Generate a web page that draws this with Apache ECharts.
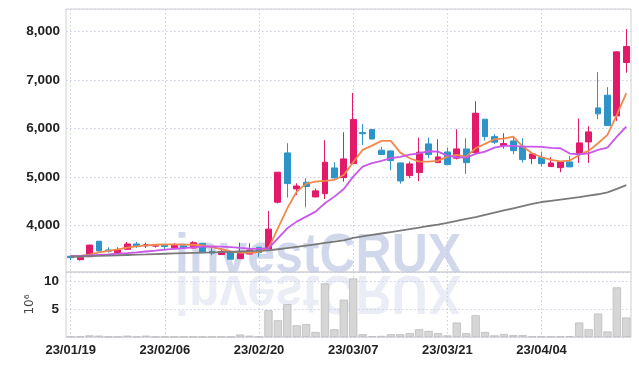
<!DOCTYPE html>
<html>
<head>
<meta charset="utf-8">
<script src="https://cdn.jsdelivr.net/npm/echarts@6/dist/echarts.min.js"></script>
<style>
html,body{margin:0;padding:0;background:#fff;}
#chart{width:639px;height:366px;}
</style>
</head>
<body>
<div id="chart"></div>
<script>
const dates = ['23/01/19','23/01/20','23/01/25','23/01/26','23/01/27','23/01/30','23/01/31','23/02/01','23/02/02','23/02/03',
 '23/02/06','23/02/07','23/02/08','23/02/09','23/02/10','23/02/13','23/02/14','23/02/15','23/02/16','23/02/17',
 '23/02/20','23/02/21','23/02/22','23/02/23','23/02/24','23/02/27','23/02/28','23/03/02','23/03/03','23/03/06',
 '23/03/07','23/03/08','23/03/09','23/03/10','23/03/13','23/03/14','23/03/15','23/03/16','23/03/17','23/03/20',
 '23/03/21','23/03/22','23/03/23','23/03/24','23/03/27','23/03/28','23/03/29','23/03/30','23/03/31','23/04/03',
 '23/04/04','23/04/05','23/04/06','23/04/07','23/04/10','23/04/11','23/04/12','23/04/13','23/04/14','23/04/17'];

const opens  = [3360,3290,3350,3670,3490,3435,3504,3614,3575,3570, 3587,3535,3575,3530,3628,3462,3395,3450,3310,3405,
                3545,3510,4475,5494,4750,4888,4585,4653,5184,4983, 5273,5913,5975,5550,5535,5287,5025,5087,5680,5293,
                5514,5384,5576,5500,6190,5830,5645,5740,5630,5376, 5397,5211,5190,5308,5473,5721,6423,6686,6258,7360];
const closes = [3330,3340,3590,3470,3465,3490,3614,3575,3600,3575, 3560,3585,3535,3640,3435,3425,3460,3300,3420,3490,
                3435,3920,5095,4860,4810,4800,4710,5300,4977,5370, 6182,5890,5782,5460,5335,4915,5267,5508,5460,5411,
                5252,5576,5293,6314,5830,5715,5686,5540,5355,5473, 5273,5287,5308,5205,5700,5928,6300,6058,7580,7690];
const lows   = [3280,3270,3345,3465,3435,3430,3500,3530,3530,3540, 3480,3530,3530,3525,3430,3380,3390,3295,3305,3400,
                3350,3505,4450,4570,4625,4370,4580,4543,4970,4900, 5260,5660,5770,5455,5136,4860,4971,4909,5384,5290,
                5245,5360,5060,5495,5748,5680,5583,5467,5293,5260, 5211,5205,5095,5200,5287,5287,6190,6050,6155,7150];
const highs  = [3380,3350,3600,3675,3545,3545,3655,3655,3640,3600, 3600,3630,3590,3670,3635,3570,3520,3455,3640,3630,
                3550,4295,5100,5695,4868,4970,4760,5756,5300,5921, 6733,6087,5980,5620,5540,5290,5314,5810,5810,5777,
                5603,5983,5797,6562,6195,5880,5900,5803,5797,5480, 5520,5404,5310,5432,6203,6045,7161,6851,7590,8050];

const ma5  = [3365,3365,3393,3440,3470,3500,3540,3565,3585,3598, 3605,3605,3600,3598,3585,3550,3505,3462,3434,3430,
              3448,3525,3938,4351,4694,4860,4900,4915,4936,5039, 5300,5556,5645,5742,5742,5500,5384,5314,5314,5328,
              5418,5452,5418,5590,5680,5777,5790,5830,5624,5486, 5404,5349,5321,5335,5452,5535,5694,5866,6280,6727];
const ma20 = [3360,3368,3378,3390,3400,3412,3425,3440,3458,3475, 3495,3512,3528,3545,3558,3562,3560,3548,3532,3518,
              3512,3525,3731,3938,4075,4178,4281,4455,4591,4750, 5004,5211,5281,5328,5384,5411,5459,5486,5528,5521,
              5438,5404,5397,5473,5521,5604,5638,5638,5624,5624, 5617,5597,5590,5480,5466,5486,5556,5604,5830,6037];
const ma60 = [3350,3355,3362,3368,3375,3380,3386,3392,3398,3405, 3412,3418,3424,3430,3436,3440,3446,3452,3458,3464,
              3470,3480,3505,3530,3555,3580,3605,3635,3660,3690, 3740,3770,3800,3830,3860,3890,3920,3950,3985,4015,
              4050,4090,4130,4170,4215,4260,4305,4350,4395,4440, 4480,4505,4530,4555,4580,4610,4640,4680,4750,4830];

// volume in millions of shares
const volumes = [0.08,0.1,0.3,0.25,0.05,0.05,0.25,0.05,0.25,0.05, 0.05,0.05,0.05,0.05,0.05,0.05,0.05,0.05,0.45,0.25,
                 0.1,4.8,3.0,5.9,2.1,2.3,0.9,9.6,1.4,6.7, 10.5,0.5,0.15,0.2,0.5,0.5,0.7,1.4,1.1,0.7,
                 0.3,2.6,0.7,3.9,0.9,0.3,0.55,0.35,0.35,0.1, 0.1,0.1,0.1,0.15,2.6,1.4,4.2,1.0,8.9,3.5];

const volumeName = '10\u2076';
const watermark = 'investCRUX';

const candles = opens.map((o, i) => [o, closes[i], lows[i], highs[i]]);

const UP = '#e3196a', DOWN = '#2e94c8';
const labelFont = "'Liberation Sans',Arial,sans-serif";
const splitStyle = {color: '#c9cde0', type: [1.5, 2.5], width: 1};

const chart = echarts.init(document.getElementById('chart'), null, {renderer: 'canvas'});
chart.setOption({
  animation: false,
  backgroundColor: '#fff',
  grid: [
    {left: 66, right: 8, top: 9, height: 263, show: true, borderColor: '#d0d0d0', borderWidth: 1},
    {left: 66, right: 8, top: 272, height: 65, show: true, borderColor: '#d0d0d0', borderWidth: 1}
  ],
  xAxis: [
    {type: 'category', gridIndex: 0, data: dates, boundaryGap: true,
     axisLine: {show: false}, axisTick: {show: false}, axisLabel: {show: false, interval: 9},
     splitLine: {show: true, interval: 9, alignWithLabel: true, lineStyle: splitStyle}},
    {type: 'category', gridIndex: 1, data: dates, boundaryGap: true,
     axisLine: {show: false}, axisTick: {show: false, alignWithLabel: true},
     axisLabel: {show: true, interval: 9, margin: 7, color: '#222', fontFamily: labelFont, fontWeight: 'bold', fontSize: 13},
     splitLine: {show: true, interval: 9, alignWithLabel: true, lineStyle: splitStyle}}
  ],
  yAxis: [
    {type: 'value', gridIndex: 0, min: 3035, max: 8465, splitNumber: 5,
     axisLine: {show: false}, axisTick: {show: false},
     axisLabel: {margin: 6, color: '#222', fontFamily: labelFont, fontWeight: 'bold', fontSize: 13.5,
                 showMinLabel: false, showMaxLabel: false,
                 formatter: v => v.toLocaleString('en-US')},
     splitLine: {show: true, lineStyle: splitStyle}},
    {type: 'value', gridIndex: 1, min: 0, max: 11.65, interval: 5,
     name: volumeName, nameLocation: 'middle', nameGap: 30, nameMoveOverlap: false,
     nameTextStyle: {color: '#444', fontSize: 12, fontFamily: "'DejaVu Sans',sans-serif"},
     axisLine: {show: false}, axisTick: {show: false},
     axisLabel: {margin: 7, color: '#222', fontFamily: labelFont, fontWeight: 'bold', fontSize: 13.5,
                 showMinLabel: false, showMaxLabel: false},
     splitLine: {show: true, lineStyle: splitStyle}}
  ],
  graphic: [
    {type: 'text', x: 175, y: 284, scaleY: 1.1, z: 1, silent: true,
     style: {text: watermark, font: "bold 50px 'Liberation Sans'", fill: 'rgba(192,201,228,0.72)',
             textAlign: 'left', textVerticalAlign: 'bottom'}},
    {type: 'text', x: 175, y: 264, scaleY: -1.1, z: 1, silent: true,
     style: {text: watermark, font: "bold 50px 'Liberation Sans'", fill: 'rgba(205,212,232,0.42)',
             textAlign: 'left', textVerticalAlign: 'bottom'}}
  ],
  series: [
    {type: 'candlestick', xAxisIndex: 0, yAxisIndex: 0, data: candles, barWidth: '68%', z: 3,
     itemStyle: {color: UP, color0: DOWN, borderColor: UP, borderColor0: DOWN, borderWidth: 1}},
    {type: 'line', name: 'MA5', xAxisIndex: 0, yAxisIndex: 0, data: ma5, symbol: 'none', z: 4,
     lineStyle: {color: '#ef8a4c', width: 1.8}},
    {type: 'line', name: 'MA20', xAxisIndex: 0, yAxisIndex: 0, data: ma20, symbol: 'none', z: 4,
     lineStyle: {color: '#c857ea', width: 1.8}},
    {type: 'line', name: 'MA60', xAxisIndex: 0, yAxisIndex: 0, data: ma60, symbol: 'none', z: 4,
     lineStyle: {color: '#7a7a7a', width: 1.8}},
    {type: 'bar', xAxisIndex: 1, yAxisIndex: 1, data: volumes, barWidth: '88%', z: 3,
     itemStyle: {color: '#d6d6d6', borderColor: '#bdbdbd', borderWidth: 0.8}}
  ]
});
</script>
</body>
</html>
